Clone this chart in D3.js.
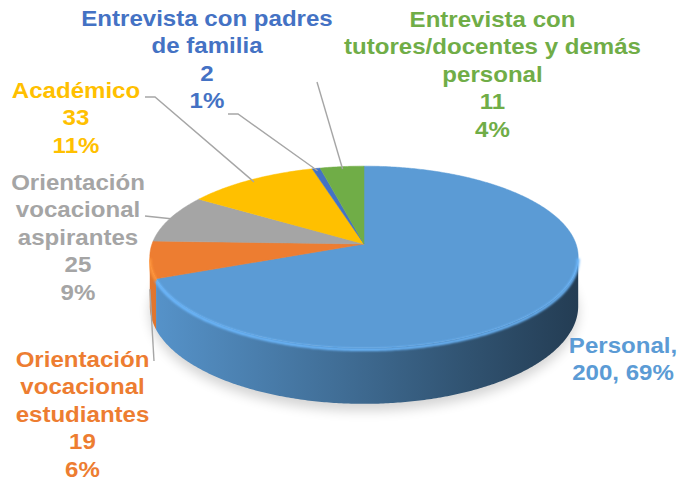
<!DOCTYPE html>
<html>
<head>
<meta charset="utf-8">
<script src="https://cdn.jsdelivr.net/npm/d3@7"></script>
<style>
  body { margin: 0; background: #fff; }
  text { font-family: "Liberation Sans", Arial, sans-serif; font-weight: bold; font-size: 21.5px; }
</style>
</head>
<body>
<svg id="chart" width="679" height="482"></svg>
<script>
// data
var categories = ["Personal", "Orientación vocacional estudiantes", "Orientación vocacional aspirantes",
                  "Académico", "Entrevista con padres de familia", "Entrevista con tutores/docentes y demás personal"];
var values   = [200, 19, 25, 33, 2, 11];
var percents = ["69%", "6%", "9%", "11%", "1%", "4%"];
// how each category name is broken in its label
var nameLines = [["Personal"],
                 ["Orientación", "vocacional", "estudiantes"],
                 ["Orientación", "vocacional", "aspirantes"],
                 ["Académico"],
                 ["Entrevista con padres", "de familia"],
                 ["Entrevista con", "tutores/docentes y demás", "personal"]];
var colors = ["#5b9bd5", "#ed7d31", "#a5a5a5", "#ffc000", "#4472c4", "#70ad47"];

// label placement (layout only)
var labelPos = [
  {x: 623,   y: 353, inline: true},
  {x: 82.5,  y: 367, leader: [[154, 361]], side: true},
  {x: 78,    y: 190, leader: [[145, 216]]},
  {x: 76,    y: 98,  leader: [[145, 97], [155, 97]]},
  {x: 207,   y: 26,  leader: [[228, 114], [238, 114]]},
  {x: 492.5, y: 27,  leader: [[317, 82]]}
];
var lineH = 27.4;

// 3d pie geometry
var cx = 364, cy = 244, rx = 212, ry = 89, persp = 0.143, depth = 48;

function proj(a, drop, f) {
  f = f || 1;
  var k = 1 / (1 + persp * Math.cos(a));
  return [cx + rx * f * Math.sin(a) * k, cy - ry * f * Math.cos(a) * k + drop * k];
}
function rim(a0, a1, drop) {
  var n = Math.max(2, Math.ceil(Math.abs(a1 - a0) / 0.01));
  return d3.range(n + 1).map(function(i) { return proj(a0 + (a1 - a0) * i / n, drop); });
}

var svg = d3.select("#chart");
var defs = svg.append("defs");

defs.append("filter").attr("id", "blur").attr("x", "-20%").attr("y", "-20%").attr("width", "140%").attr("height", "140%")
  .append("feGaussianBlur").attr("stdDeviation", 6);
defs.append("filter").attr("id", "soft")
  .append("feGaussianBlur").attr("stdDeviation", 0.8);

var arcs = d3.pie().sort(null).value(function(d) { return d; })(values);
var line = d3.line();

// shadow under the pie
svg.append("path")
  .attr("d", line(rim(0, 2 * Math.PI, depth + 6)) + "Z")
  .attr("fill", "#000")
  .attr("opacity", 0.17)
  .attr("filter", "url(#blur)");

// side walls (front half only)
var visLo = Math.acos(-persp), visHi = 2 * Math.PI - Math.acos(-persp);
var xMin = cx - rx, xMax = cx + rx;

arcs.forEach(function(d, i) {
  var a0 = Math.max(d.startAngle, visLo), a1 = Math.min(d.endAngle, visHi);
  if (a1 <= a0) return;
  var c = d3.color(colors[i]);
  var g = defs.append("linearGradient").attr("id", "side" + i)
    .attr("gradientUnits", "userSpaceOnUse")
    .attr("x1", xMin).attr("x2", xMax).attr("y1", 0).attr("y2", 0);
  [[0, 0.15], [0.45, 1.0], [0.75, 1.8], [1, 2.6]].forEach(function(s) {
    g.append("stop").attr("offset", s[0]).attr("stop-color", c.darker(s[1]).formatHex());
  });
  var pts = rim(a0, a1, 0).concat(rim(a1, a0, depth));
  svg.append("path").attr("d", line(pts) + "Z").attr("fill", "url(#side" + i + ")");
});

// top face
arcs.forEach(function(d, i) {
  var pts = [[cx, cy]].concat(rim(d.startAngle, d.endAngle, 0));
  svg.append("path").attr("d", line(pts) + "Z")
    .attr("fill", colors[i]).attr("stroke", colors[i]).attr("stroke-width", 0.5);
});

// bevel highlight on the front rim
arcs.forEach(function(d, i) {
  var a0 = Math.max(d.startAngle, visLo), a1 = Math.min(d.endAngle, visHi);
  if (a1 <= a0) return;
  svg.append("path").attr("d", line(rim(a0, a1, 1.5)))
    .attr("fill", "none")
    .attr("stroke", d3.color(colors[i]).brighter(0.5).formatHex())
    .attr("stroke-width", 3)
    .attr("filter", "url(#soft)");
});

// leader lines
arcs.forEach(function(d, i) {
  var lp = labelPos[i];
  if (!lp.leader) return;
  var mid = (d.startAngle + d.endAngle) / 2;
  var end = lp.side ? proj(mid, depth * 0.6) : proj(mid, 0, 0.97);
  svg.append("path").attr("d", line(lp.leader.concat([end])))
    .attr("fill", "none").attr("stroke", "#a6a6a6").attr("stroke-width", 1.4);
});

// data labels
arcs.forEach(function(d, i) {
  var lp = labelPos[i];
  var lines = lp.inline
    ? [nameLines[i][0] + ",", values[i] + ", " + percents[i]]
    : nameLines[i].concat([String(values[i]), percents[i]]);
  var g = svg.append("g").attr("transform", "translate(" + lp.x + ",0) scale(1.12,1)");
  g.selectAll("text").data(lines).enter().append("text")
    .attr("x", 0)
    .attr("y", function(t, j) { return lp.y + j * lineH; })
    .attr("text-anchor", "middle")
    .attr("fill", colors[i])
    .text(function(t) { return t; });
});
</script>
</body>
</html>
